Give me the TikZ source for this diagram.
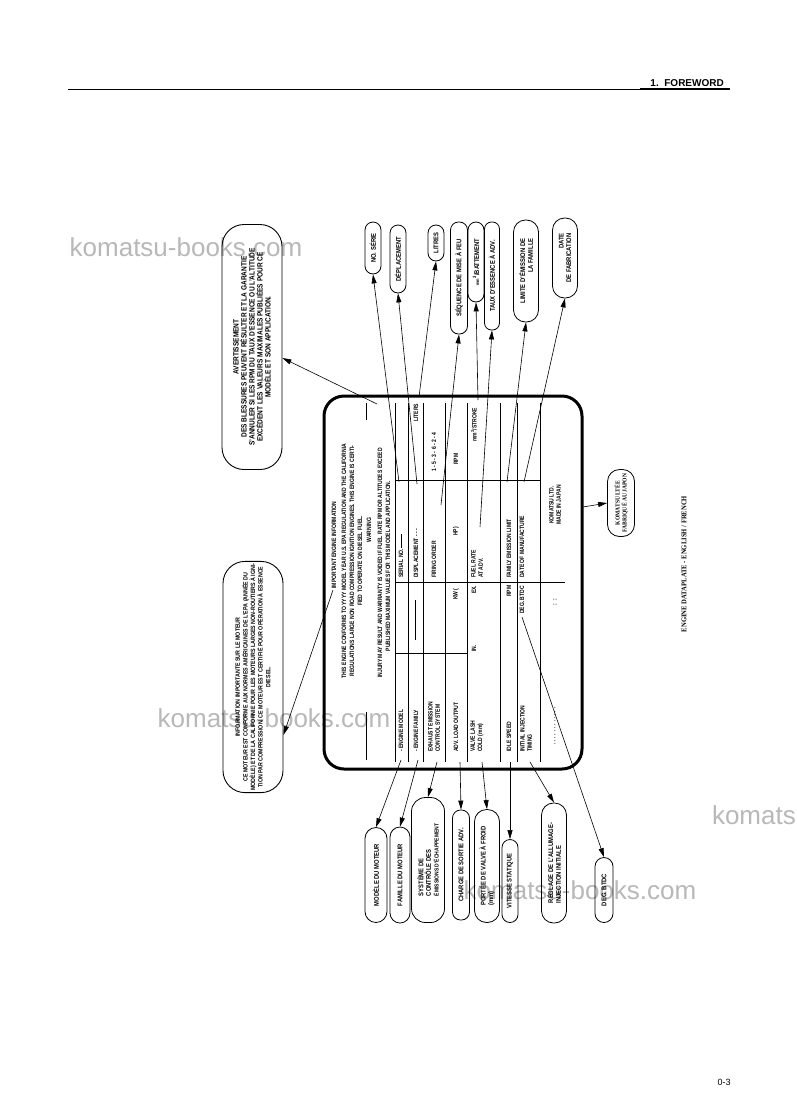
\documentclass[tikz,border=0pt]{standalone}
\usepackage{fontspec}
\setmainfont{Liberation Sans}[FakeStretch=0.86]
\newfontfamily\platefont{Liberation Sans}[FakeStretch=0.8]
\newfontfamily\serifcond{Liberation Serif}[FakeStretch=0.92]
\newfontfamily\wmfont{Liberation Sans}
\newfontfamily\hdfont{Liberation Sans}
\usetikzlibrary{arrows.meta}
\begin{document}
\begin{tikzpicture}[x=1pt,y=-1pt,
  pill/.style={draw, line width=0.8pt, rotate=90, align=center, inner sep=1pt, font=\fontsize{6.8}{7.6}\selectfont\bfseries},
  ptx/.style={rotate=90, inner sep=0pt, font=\platefont\fontsize{6.3}{7.2}\selectfont\bfseries},
  ptl/.style={ptx, anchor=west},
  arr/.style={-{Triangle[length=9pt,width=5pt]}, line width=0.6pt},
  wm/.style={font=\wmfont\fontsize{26}{26}\selectfont, text=black!28, inner sep=0pt},
  bigbox/.style={draw, line width=0.9pt, rotate=90, align=center, inner sep=2pt, font=\fontsize{6}{8}\selectfont\bfseries},
  rule/.style={line width=0.6pt}
]
\useasboundingbox (0,0) rectangle (797,1114);
\clip (0,0) rectangle (797,1114);
\fill[white] (0,0) rectangle (797,1114);

% watermarks
\node[wm] (wm1) at (186,247) {komatsu-books.com};
\node[wm] (wm2) at (274,718) {komatsu-books.com};
\node[wm, anchor=east] (wm3) at (796,815) {komats};
\node[wm] (wm4) at (580,890) {komatsu-books.com};

% header / footer
\draw[line width=0.9pt] (68,89) -- (730,89);
\draw[line width=1.6pt] (640,89) -- (730,89);
\node[font=\hdfont\fontsize{10}{10}\selectfont\bfseries, anchor=base east, inner sep=0pt] (hdr) at (724,86) {1.\ \ FOREWORD};
\node[font=\hdfont\fontsize{9}{9}\selectfont, inner sep=0pt] (pg) at (724,1082) {0-3};
\node[rotate=90, font=\serifcond\bfseries\fontsize{7.2}{8}\selectfont, inner sep=0pt] (cap) at (684,564) {ENGINE DATAPLATE - ENGLISH / FRENCH};

% plate
\node[draw, line width=3pt, rounded corners=20pt, minimum width=258pt, minimum height=373pt, inner sep=0pt] (plate) at (453,582.5) {};

% header text of plate
\node[ptx] (t0) at (334,545) {IMPORTANT ENGINE INFORMATION};
\node[ptx] (t1) at (344,561) {THIS ENGINE CONFORMS TO YYYY MODEL YEAR U.S. EPA REGULATION AND THE CALIFORNIA};
\node[ptx] (t2) at (352,561) {REGULATIONS LARGE NON ROAD COMPRESSION IGNITION ENGINES. THIS ENGINE IS CERTI-};
\node[ptx] (t3) at (360,561) {FIED TO OPERATE ON DIESEL FUEL.};
\node[ptx] (t4) at (369,530) {WARNING};
\node[ptx] (t5) at (380,563) {INJURY MAY RESULT AND WARRANTY IS VOIDED IF FUEL RATE RPM OR ALTITUDES EXCEED};
\node[ptx] (t6) at (388,566) {PUBLISHED MAXIMUM VALUES FOR THIS MODEL AND APPLICATION.};
\draw[rule] (366,403) -- (366,420);
\draw[rule] (366,712) -- (366,760);

% table rules
\foreach \xx in {395,408,423,445,467,500,517,540} {\draw[rule] (\xx,403) -- (\xx,762);}
\draw[rule] (395,653) -- (467,653);
\draw[rule] (395,582) -- (565,582);
\draw[rule] (395,480) -- (540,480);

% table text
\node[ptl] (r1a) at (401,752) {- ENGINE MODEL};
\node[ptl] (r1c) at (401,578) {SERIAL NO. \rule[0.5ex]{14pt}{0.4pt}};
\node[ptl] (r2a) at (416,752) {- ENGINE FAMILY};
\node[ptl] (r2b) at (416,640) {\rule[0.5ex]{40pt}{0.4pt}};
\node[ptl] (r2c) at (416,578) {DISPLACEMENT - - -};
\node[ptl] (r2d) at (416,422) {LITERS};
\node[ptl, align=left] (r3a) at (434,752) {EXHAUST EMISSION\\CONTROL SYSTEM};
\node[ptl] (r3c) at (434,578) {FIRING ORDER};
\node[ptl] (r3d) at (434,472) {1 - 5 - 3 - 6 - 2 - 4};
\node[ptl] (r4a) at (456,752) {ADV. LOAD OUTPUT};
\node[ptl] (r4b) at (456,600) {KW (};
\node[ptl] (r4c) at (456,536) {HP)};
\node[ptl] (r4d) at (456,465) {RPM};
\node[ptl, align=left] (r5a) at (477,752) {VALVE LASH\\COLD (mm)};
\node[ptl] (r5b) at (474,652) {IN.};
\node[ptl] (r5e) at (474,594) {EX.};
\node[ptl, align=left] (r5c) at (477,578) {FUEL RATE\\AT ADV.};
\node[ptl] (r5d) at (474,442) {mm\textsuperscript{3}/STROKE};
\node[ptl] (r6a) at (509,752) {IDLE SPEED};
\node[ptl] (r6b) at (509,597) {RPM};
\node[ptl] (r6c) at (509,578) {FAMILY EMISSION LIMIT};
\node[ptl, align=left] (r7a) at (526,752) {INITIAL INJECTION\\TIMING};
\node[ptl] (r7b) at (522,614) {DEG. BTDC};
\node[ptl] (r7c) at (522,578) {DATE OF MANUFACTURE};
\node[ptl] (r8a) at (555,745) {. . . . . . . . . . . .};
\node[ptl] (r8b) at (555,606) {: \ :};
\node[ptx, align=center] (r8c) at (555,505) {KOMATSU LTD.\\MADE IN JAPAN};

% source points on plate
\coordinate (sSer) at (399,482);
\coordinate (sDis) at (417,484);
\coordinate (sLit) at (419,397);
\coordinate (sFir) at (441,505);
\coordinate (sStr) at (478,400);
\coordinate (sFue) at (480,527);
\coordinate (sFam) at (507,482);
\coordinate (sDat) at (524,482);
\coordinate (sMod) at (401,760);
\coordinate (sEfa) at (418,760);
\coordinate (sExh) at (437,762);
\coordinate (sAdv) at (460,762);
\coordinate (sVal) at (482,762);
\coordinate (sIdl) at (510,762);
\coordinate (sIni) at (530,762);
\coordinate (sDeg) at (522,617);
\coordinate (sImp) at (333,590);
\coordinate (sWar) at (377,404);
\coordinate (sKom) at (583,507);

% top callouts
\node[pill, minimum width=52pt, minimum height=16pt, rounded corners=8pt] (cSer) at (373,248) {NO. SÉRIE};
\node[pill, minimum width=68pt, minimum height=16pt, rounded corners=8pt] (cDis) at (398,259) {DÉPLACEMENT};
\node[pill, minimum width=36pt, minimum height=16pt, rounded corners=8pt] (cLit) at (436,243) {LITRES};
\node[pill, minimum width=112pt, minimum height=17pt, rounded corners=8pt] (cFir) at (459,278) {SÉQUENCE DE MISE À FEU};
\node[pill, minimum width=80pt, minimum height=16pt, rounded corners=8pt] (cStr) at (476,262) {{\fontsize{4.5}{5}\selectfont mm}\textsuperscript{3}/BATTEMENT};
\node[pill, minimum width=108pt, minimum height=15pt, rounded corners=7pt] (cFue) at (492,276) {TAUX D'ESSENCE À ADV.};
\node[pill, minimum width=102pt, minimum height=25pt, rounded corners=12pt, align=right] (cFam) at (526,271) {LIMITE D'ÉMISSION DE\\LA FAMILLE};
\node[pill, minimum width=80pt, minimum height=25pt, rounded corners=12pt, align=right] (cDat) at (565,258) {DATE\\DE FABRICATION};

% bottom callouts
\node[pill, minimum width=95pt, minimum height=22pt, rounded corners=11pt] (cMod) at (376,875) {MODÈLE DU MOTEUR};
\node[pill, minimum width=96pt, minimum height=20pt, rounded corners=10pt] (cEfa) at (400,875) {FAMILLE DU MOTEUR};
\node[pill, minimum width=125pt, minimum height=33pt, rounded corners=14pt, align=left] (cExh) at (428,860) {SYSTÈME DE\\CONTRÔLE DES\\{\fontsize{5.8}{6.5}\selectfont ÉMISSIONS D'ÉCHAPPEMENT}};
\node[pill, minimum width=110pt, minimum height=17pt, rounded corners=8pt] (cAdv) at (461,865) {CHARGE DE SORTIE ADV.};
\node[pill, minimum width=113pt, minimum height=25pt, rounded corners=12pt, align=left] (cVal) at (487,866) {PORTÉE DE VALVE À FROID\\(mm)};
\node[pill, minimum width=83pt, minimum height=16pt, rounded corners=8pt] (cIdl) at (510,881) {VITESSE STATIQUE};
\node[pill, minimum width=120pt, minimum height=25pt, rounded corners=12pt, align=left] (cIni) at (554,863) {RÉGLAGE DE L'ALLUMAGE-\\INJECTION INITIALE};
\node[pill, minimum width=65pt, minimum height=18pt, rounded corners=9pt] (cDeg) at (604,890) {DEG. BTDC};

% big boxes left
\node[bigbox, minimum width=245pt, minimum height=60pt, rounded corners=22pt, font=\fontsize{7.6}{8}\selectfont\bfseries] (avert) at (252,347)
 {AVERTISSEMENT\\
 DES BLESSURES PEUVENT RÉSULTER ET LA GARANTIE\\
 S'ANNULER SI LES RPM DU TAUX D'ESSENCE OU L'ALTITUDE\\
 EXCÈDENT LES VALEURS MAXIMALES PUBLIÉES POUR CE\\
 MODÈLE ET SON APPLICATION.};
\node[bigbox, minimum width=197pt, minimum height=60pt, rounded corners=22pt, font=\fontsize{6.2}{7.6}\selectfont\bfseries] (info) at (253,677)
 {INFORMATION IMPORTANTE SUR LE MOTEUR\\
 CE MOTEUR EST CONFORME AUX NORMES AMÉRICAINES DE L'EPA (ANNÉE DU\\
 MODÈLE) ET DE LA CALIFORNIE POUR LES MOTEURS LARGES NON-ROUTIERS À IGNI-\\
 TION PAR COMPRESSION. CE MOTEUR EST CERTIFIÉ POUR OPÉRATION À ESSENCE\\
 DIESEL.};

% komatsu box
\node[draw, line width=0.8pt, rotate=90, rounded corners=12pt, minimum width=67pt, minimum height=27pt, align=center, inner sep=1pt, font=\serifcond\bfseries\fontsize{6.1}{7}\selectfont] (kbox) at (621,503) {KOMATSU LTÉE\\FABRIQUÉ AU JAPON};

% connectors
\draw[arr] (sSer) -- (cSer.west);
\draw[arr] (sDis) -- (cDis.west);
\draw[arr] (sLit) -- (cLit.west);
\draw[arr] (sFir) -- (cFir.west);
\draw[arr] (sStr) -- (cStr.west);
\draw[arr] (sFue) -- (cFue.west);
\draw[arr] (sFam) -- (cFam.west);
\draw[arr] (sDat) -- (cDat.west);
\draw[arr] (sMod) -- (cMod.east);
\draw[arr] (sEfa) -- (cEfa.east);
\draw[arr] (sExh) -- (cExh.east);
\draw[arr] (sAdv) -- (cAdv.east);
\draw[arr] (sVal) -- (cVal.east);
\draw[arr] (sIdl) -- (cIdl.east);
\draw[arr] (sIni) -- (cIni.east);
\draw[arr] (sDeg) -- (cDeg.east);
\draw[arr] (sWar) -- ([yshift=-11pt]avert.south);
\draw[arr] (sImp) -- ([yshift=-58pt]info.south);
\draw[arr] (sKom) -- (kbox.north);
\end{tikzpicture}
\end{document}
